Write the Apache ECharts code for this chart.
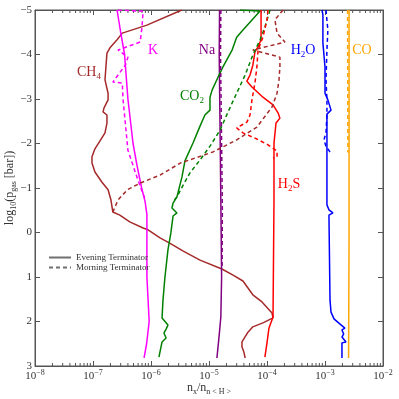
<!DOCTYPE html>
<html lang="en">
<head>
<meta charset="UTF-8">
<title>Terminator abundances</title>
<style>
  html, body { margin: 0; padding: 0; background: #fff; }
  #main { width: 399px; height: 399px; }
</style>
<script src="https://cdn.jsdelivr.net/npm/echarts@6/dist/echarts.min.js"></script>
</head>
<body>
<div id="main"></div>
<script>
// each point: [mixing ratio n_x/n_<H>, log10(p_gas / bar)]
var ch4Evening = [[3.4e-6,-5],[8.5e-7,-4.66],[3.2e-7,-4.48],[2.6e-7,-4.33],[1.96e-7,-4.15],[1.74e-7,-4.03],[1.67e-7,-3.72],[1.61e-7,-3.43],[1.82e-7,-3.13],[1.82e-7,-2.98],[1.55e-7,-2.80],[1.49e-7,-2.71],[1.74e-7,-2.64],[1.74e-7,-2.46],[1.61e-7,-2.24],[1.32e-7,-2.06],[1.08e-7,-1.88],[9.6e-8,-1.70],[9.6e-8,-1.56],[1.08e-7,-1.36],[1.43e-7,-1.13],[1.82e-7,-0.96],[2.04e-7,-0.73],[2.2e-7,-0.46],[2.9e-7,-0.39],[4.3e-7,-0.24],[7.3e-7,-0.10],[8.9e-7,-0.06],[1.43e-6,0.12],[2.1e-6,0.24],[3.6e-6,0.42],[7.0e-6,0.62],[1.67e-5,0.82],[2.6e-5,0.96],[3.85e-5,1.09],[5.7e-5,1.40],[8.2e-5,1.56],[1.22e-4,1.81],[1.27e-4,1.92],[8.5e-5,2.03],[5.7e-5,2.12],[4.7e-5,2.24],[3.7e-5,2.46],[3.7e-5,2.57],[4.0e-5,2.69],[4.2e-5,2.82]];
var ch4Morning = [[1.89e-4,-5],[1.37e-4,-4.78],[1.49e-4,-4.48],[2.04e-4,-4.28],[5.7e-5,-4.10],[1.67e-4,-3.94],[1.67e-4,-3.72],[1.61e-4,-3.43],[1.49e-4,-3.13],[1.22e-4,-2.82],[6.7e-5,-2.37],[3.0e-5,-2.08],[1.17e-5,-1.81],[3.2e-6,-1.56],[1.43e-6,-1.29],[6.5e-7,-1.11],[3.9e-7,-0.96],[2.7e-7,-0.73],[2.2e-7,-0.46]];

var kEvening = [[2.6e-7,-5],[3.0e-7,-4.5],[3.5e-7,-4],[4.0e-7,-3],[4.9e-7,-2],[5.75e-7,-1.5],[6.9e-7,-1],[7.9e-7,-0.7],[8.5e-7,-0.4],[8.5e-7,0],[8.5e-7,1],[9.3e-7,2],[8.4e-7,2.5],[7.6e-7,2.82]];
var kMorning = [[2.7e-7,-5],[7.3e-7,-4.97],[7.0e-7,-4.62],[6.5e-7,-4.28],[2.7e-7,-4.10],[4.0e-7,-3.94],[3.6e-7,-3.76],[2.2e-7,-3.38],[3.2e-7,-3.36],[3.3e-7,-2.98],[4.0e-7,-1.85],[5.7e-7,-1.25],[7.9e-7,-0.74]];

var naEvening = [[1.52e-5,-5],[1.5e-5,-4],[1.6e-5,-0.7],[1.65e-5,1],[1.6e-5,1.9],[1.5e-5,2.3],[1.37e-5,2.82]];
var naMorning = [[1.6e-5,-5],[1.58e-5,-4],[1.65e-5,-2],[1.7e-5,-0.5],[1.68e-5,0.8]];

var co2Evening = [[3.42e-5,-5],[7.6e-5,-4.98],[3.85e-5,-4.55],[3.0e-5,-4.39],[2.5e-5,-4.10],[1.74e-5,-3.72],[1.43e-5,-3.49],[1.13e-5,-3.20],[1.04e-5,-3.04],[1.04e-5,-2.75],[8.5e-6,-2.64],[7.0e-6,-2.39],[5.3e-6,-2.01],[3.85e-6,-1.61],[3.42e-6,-1.25],[2.8e-6,-0.80],[2.4e-6,-0.66],[2.3e-6,-0.55],[2.8e-6,-0.44],[2.4e-6,-0.37],[2.2e-6,0.01],[1.96e-6,0.39],[1.74e-6,1.0],[1.61e-6,1.52],[1.55e-6,1.92],[1.96e-6,2.08],[2.1e-6,2.12],[1.82e-6,2.17],[1.67e-6,2.26],[1.82e-6,2.37],[1.55e-6,2.46],[1.37e-6,2.80]];
var co2Morning = [[1.13e-4,-5],[9.2e-5,-4.62],[7.6e-5,-4.33],[5.7e-5,-3.99],[4.2e-5,-3.54],[2.9e-5,-3.09],[2.1e-5,-2.69],[1.55e-5,-2.30],[1.04e-5,-1.94],[7.0e-6,-1.63],[4.7e-6,-1.34],[3.6e-6,-1.07],[2.8e-6,-0.80],[2.4e-6,-0.69]];

var h2sEvening = [[7.9e-5,-5],[7.9e-5,-4.33],[7.0e-5,-4.17],[6.2e-5,-4.06],[5.7e-5,-3.76],[5.1e-5,-3.54],[4.5e-5,-3.40],[5.5e-5,-3.27],[8.5e-5,-3.04],[1.27e-4,-2.87],[1.55e-4,-2.69],[1.67e-4,-2.57],[1.43e-4,-2.46],[1.32e-4,-2.01],[1.32e-4,-0.73],[1.27e-4,1.90],[1.08e-4,2.15],[1.0e-4,2.48],[9.2e-5,2.80]];
var h2sMorning = [[1.04e-4,-5],[1.0e-4,-4.78],[8.5e-5,-4.39],[7.0e-5,-4.10],[6.7e-5,-3.72],[6.2e-5,-3.36],[5.5e-5,-2.98],[5.1e-5,-2.64],[4.5e-5,-2.48],[3.0e-5,-2.35],[3.85e-5,-2.24],[6.7e-5,-2.10],[1.04e-4,-1.97],[1.49e-4,-1.83],[1.49e-4,-1.70],[1.27e-4,-1.67]];

var h2oEvening = [[8.9e-4,-5],[9.2e-4,-4.89],[9.2e-4,-4.26],[1.0e-3,-3.72],[1.0e-3,-3.13],[1.12e-3,-2.98],[1.27e-3,-2.75],[1.08e-3,-2.66],[1.08e-3,-0.62],[1.17e-3,-0.51],[1.37e-3,-0.44],[1.17e-3,-0.39],[1.22e-3,1.52],[1.27e-3,1.79],[1.43e-3,1.94],[1.82e-3,2.06],[2.2e-3,2.15],[1.96e-3,2.19],[2.1e-3,2.28],[1.96e-3,2.35],[2.3e-3,2.46],[1.96e-3,2.48],[1.96e-3,2.82]];
var h2oMorning = [[1.04e-3,-5],[1.12e-3,-4.55],[1.08e-3,-4.10],[1.04e-3,-3.43],[1.08e-3,-2.98],[1.08e-3,-2.64],[1.04e-3,-2.24],[9.6e-4,-2.08],[1.04e-3,-1.94],[1.22e-3,-1.81]];

var coEvening = [[2.6e-3,-5],[2.6e-3,0],[2.55e-3,2.82]];
var coMorning = [[2.45e-3,-5],[2.48e-3,-1.8]];

var legendNames = ['Evening Terminator', 'Morning Terminator'];

var serif = 'Liberation Serif';
var frame = '#555';
var legendGray = '#707070';

// matplotlib style minor ticks at 2..9 x 10^d
var minorTicks = [];
for (var d = -8; d < -2; d++) {
    for (var k = 2; k < 10; k++) minorTicks.push([k * Math.pow(10, d), 0]);
}

function profile(name, color, data, dashed) {
    return {
        name: name,
        type: 'line',
        data: data,
        symbol: 'none',
        silent: true,
        color: color,
        lineStyle: { color: color, width: 1.5, type: dashed ? [4, 3] : 'solid' },
        z: dashed ? 3 : 2
    };
}

function label(text, x, y, color) {
    return {
        type: 'text', x: x, y: y, silent: true,
        style: {
            text: text, fill: color, align: 'center', verticalAlign: 'middle',
            fontFamily: serif, fontSize: 14,
            rich: {
                m: { fontFamily: serif, fontSize: 14, lineHeight: 18, fill: color },
                s: { fontFamily: serif, fontSize: 9, verticalAlign: 'bottom', fill: color }
            }
        }
    };
}

var axisSub = {
    a: { fontFamily: serif, fontSize: 12, color: '#333', lineHeight: 16 },
    s: { fontFamily: serif, fontSize: 8, color: '#333', verticalAlign: 'bottom' }
};

function sideAxis(extra) {
    var base = {
        axisLine: { onZero: false, lineStyle: { color: frame } },
        axisTick: { inside: true, length: 5, lineStyle: { color: frame } },
        splitLine: { show: false }
    };
    return Object.assign(base, extra);
}

var chart = echarts.init(document.getElementById('main'));
chart.setOption({
    animation: false,
    grid: {
        left: 35, right: 16, top: 10, bottom: 33,
        outerBoundsMode: 'none', containLabel: false,
        show: true, borderColor: frame, borderWidth: 1
    },
    legend: {
        data: legendNames,
        orient: 'vertical', left: 43, top: 248,
        itemWidth: 22, itemHeight: 9, itemGap: 1,
        itemStyle: { color: 'rgba(0,0,0,0)', borderWidth: 0, opacity: 0 },
        textStyle: { fontFamily: serif, fontSize: 9, color: '#333' }
    },
    xAxis: [sideAxis({
        type: 'log', logBase: 10, min: 1e-8, max: 1e-2, splitNumber: 6,
        position: 'bottom',
        name: '{a|n}{s|x}{a|/n}{s|n < H >}',
        nameLocation: 'middle', nameGap: 14, nameMoveOverlap: false,
        nameTextStyle: { rich: axisSub, verticalAlign: 'top' },
        axisLabel: {
            margin: 3,
            formatter: function (v) {
                var e = Math.round(Math.log(v) / Math.LN10);
                return '{b|10}{p|' + (e < 0 ? '\u2212' + (-e) : e) + '}';
            },
            rich: {
                b: { fontFamily: serif, fontSize: 11, color: '#333', lineHeight: 14 },
                p: { fontFamily: serif, fontSize: 8, color: '#333', verticalAlign: 'top' }
            }
        }
    }), sideAxis({
        type: 'log', logBase: 10, min: 1e-8, max: 1e-2, splitNumber: 6,
        position: 'top',
        axisLabel: { show: false }
    })],
    yAxis: [sideAxis({
        type: 'value', inverse: true, min: -5, max: 3, interval: 1,
        position: 'left',
        name: '{a|log}{s|10}{a|(p}{s|gas}{a| [bar])}',
        nameLocation: 'middle', nameGap: 17, nameMoveOverlap: false,
        nameTextStyle: { rich: axisSub },
        axisLabel: {
            margin: 3, fontFamily: serif, fontSize: 11, color: '#333',
            formatter: function (v) { return v < 0 ? '\u2212' + (-v) : String(v); }
        }
    }), sideAxis({
        type: 'value', inverse: true, min: -5, max: 3, interval: 1,
        position: 'right',
        axisLabel: { show: false }
    })],
    graphic: [
        label('{m|CH}{s|4}', 89, 72, '#a52a2a'),
        label('{m|K}', 153, 50, '#ff00ff'),
        label('{m|Na}', 207, 50, '#800080'),
        label('{m|CO}{s|2}', 192, 96, '#008000'),
        label('{m|H}{s|2}{m|O}', 303, 50, '#0000ff'),
        label('{m|CO}', 362, 50, '#ffa500'),
        label('{m|H}{s|2}{m|S}', 289, 184, '#ff0000')
    ],
    series: [
        profile('CH4 evening', '#a52a2a', ch4Evening, false),
        profile('CH4 morning', '#a52a2a', ch4Morning, true),
        profile('K evening', '#ff00ff', kEvening, false),
        profile('K morning', '#ff00ff', kMorning, true),
        profile('Na evening', '#800080', naEvening, false),
        profile('Na morning', '#800080', naMorning, true),
        profile('CO2 evening', '#008000', co2Evening, false),
        profile('CO2 morning', '#008000', co2Morning, true),
        profile('H2S evening', '#ff0000', h2sEvening, false),
        profile('H2S morning', '#ff0000', h2sMorning, true),
        profile('H2O evening', '#0000ff', h2oEvening, false),
        profile('H2O morning', '#0000ff', h2oMorning, true),
        profile('CO evening', '#ffa500', coEvening, false),
        profile('CO morning', '#ffa500', coMorning, true),
        profile(legendNames[0], legendGray, [], false),
        profile(legendNames[1], legendGray, [], true),
        {
            type: 'custom', silent: true, data: minorTicks,
            renderItem: function (params, api) {
                var x = api.coord([api.value(0), 0])[0];
                var cs = params.coordSys;
                var st = { stroke: frame, lineWidth: 1 };
                return {
                    type: 'group', children: [
                        { type: 'line', shape: { x1: x, y1: cs.y + cs.height, x2: x, y2: cs.y + cs.height - 3 }, style: st },
                        { type: 'line', shape: { x1: x, y1: cs.y, x2: x, y2: cs.y + 3 }, style: st }
                    ]
                };
            }
        }
    ]
});
</script>
</body>
</html>
